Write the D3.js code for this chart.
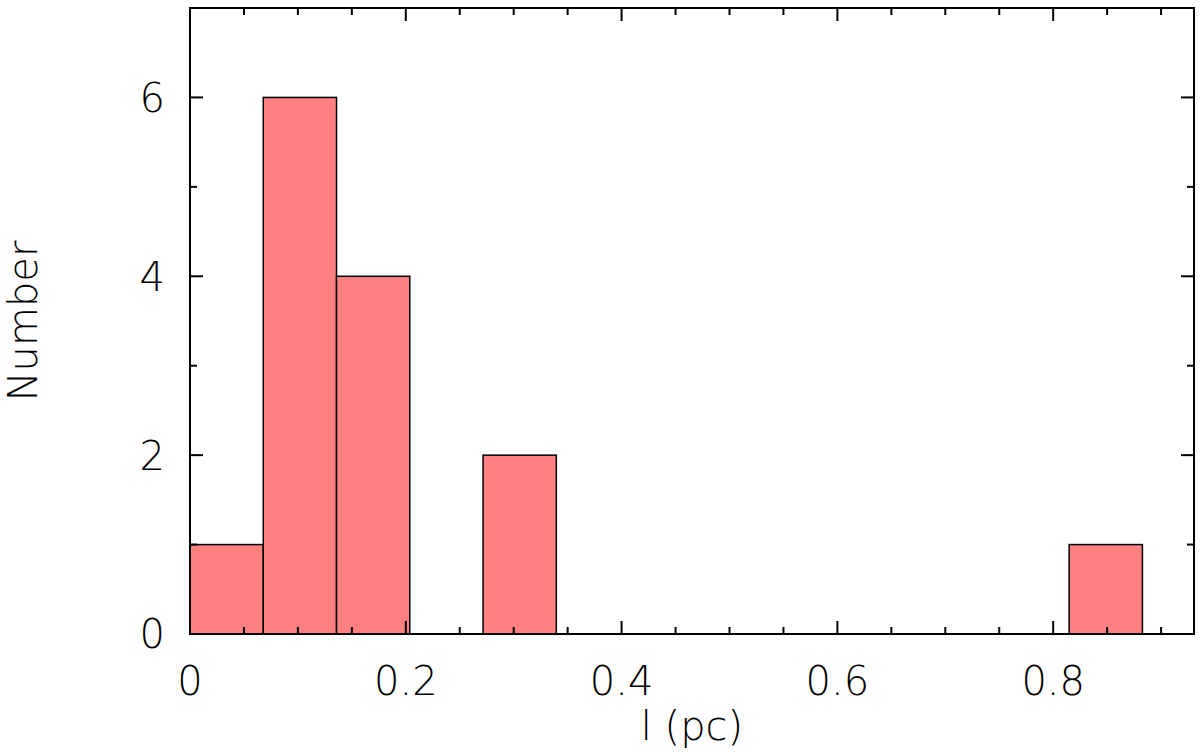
<!DOCTYPE html>
<html>
<head>
<meta charset="utf-8">
<script src="https://cdn.jsdelivr.net/npm/d3@7"></script>
<style>
  body { margin: 0; background: #fff; }
  text { font-family: "DejaVu Sans"; font-weight: 200; fill: #000; }
</style>
</head>
<body>
<div id="chart"></div>
<script>
// histogram of l (pc)
var binWidth = 0.0679;
var counts = [1, 6, 4, 0, 2, 0, 0, 0, 0, 0, 0, 0, 1];
var xMajor = [0, 0.2, 0.4, 0.6, 0.8];
var yMajor = [0, 2, 4, 6];

var width = 1200, height = 752;
var margin = {top: 8, right: 6, bottom: 118, left: 190};
var w = width - margin.left - margin.right,
    h = height - margin.top - margin.bottom;

var svg = d3.select('#chart')
            .append('svg')
            .attr('width', width)
            .attr('height', height);

var graph = svg.append('g')
               .attr('transform', `translate(${margin.left}, ${margin.top})`);

var x = d3.scaleLinear().domain([0, 0.9305]).range([0, w]);
var y = d3.scaleLinear().domain([0, 7]).range([h, 0]);

var bins = counts.map((c, i) => ({x0: i * binWidth, x1: (i + 1) * binWidth, n: c}))
                 .filter(d => d.n > 0);

graph.selectAll('rect')
     .data(bins)
     .enter()
     .append('rect')
     .attr('x', d => x(d.x0))
     .attr('y', d => y(d.n))
     .attr('width', d => x(d.x1) - x(d.x0))
     .attr('height', d => y(0) - y(d.n))
     .attr('fill', '#ff8080')
     .attr('stroke', '#000')
     .attr('stroke-width', 1.5);

//ticks, inside, on all four sides
var xMinor = d3.range(0, 0.93, 0.05).filter(v => !xMajor.some(m => Math.abs(m - v) < 1e-6));
var yMinor = [1, 3, 5];

function tickLines(vals, len, horizontal) {
  vals.forEach(v => {
    if (horizontal) {
      var px = x(v);
      graph.append('line').attr('x1', px).attr('x2', px).attr('y1', h).attr('y2', h - len);
      graph.append('line').attr('x1', px).attr('x2', px).attr('y1', 0).attr('y2', len);
    } else {
      var py = y(v);
      graph.append('line').attr('x1', 0).attr('x2', len).attr('y1', py).attr('y2', py);
      graph.append('line').attr('x1', w).attr('x2', w - len).attr('y1', py).attr('y2', py);
    }
  });
}
tickLines(xMajor, 13, true);
tickLines(xMinor, 7, true);
tickLines(yMajor, 13, false);
tickLines(yMinor, 7, false);
graph.selectAll('line').attr('stroke', '#000').attr('stroke-width', 2);

//frame
graph.append('rect')
     .attr('width', w)
     .attr('height', h)
     .attr('fill', 'none')
     .attr('stroke', '#000')
     .attr('stroke-width', 2);

//tick labels
graph.selectAll('.xl')
     .data(xMajor)
     .enter()
     .append('text')
     .attr('x', d => x(d))
     .attr('y', h + 61)
     .attr('text-anchor', 'middle')
     .style('font-size', '40px')
     .text(d => d === 0 ? '0' : d3.format('.1f')(d));

graph.selectAll('.yl')
     .data(yMajor)
     .enter()
     .append('text')
     .attr('x', -25)
     .attr('y', d => y(d))
     .attr('dy', '0.36em')
     .attr('text-anchor', 'end')
     .style('font-size', '40px')
     .text(d => d);

//axis titles
graph.append('text')
     .attr('x', w / 2)
     .attr('y', h + 106)
     .attr('text-anchor', 'middle')
     .style('font-size', '40px')
     .text('l (pc)');

graph.append('text')
     .attr('transform', `translate(${-153}, ${h / 2}) rotate(-90)`)
     .attr('text-anchor', 'middle')
     .style('font-size', '40px')
     .text('Number');
</script>
</body>
</html>
